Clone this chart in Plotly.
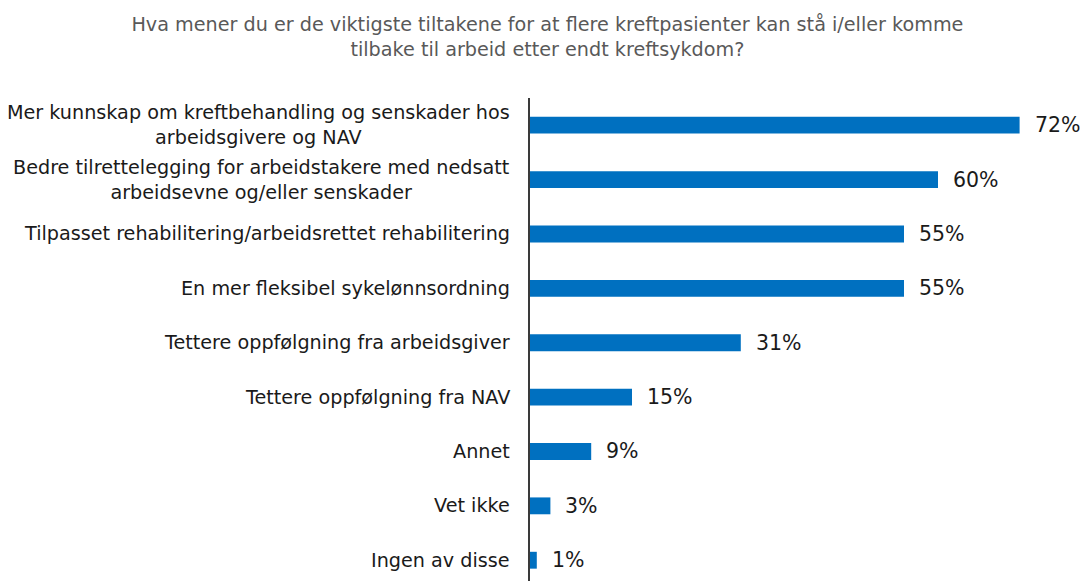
import plotly.graph_objects as go

# Survey answers (percent of respondents), listed top to bottom
categories = [
    "Mer kunnskap om kreftbehandling og senskader hos<br>arbeidsgivere og NAV",
    "Bedre tilrettelegging for arbeidstakere med nedsatt<br>arbeidsevne og/eller senskader",
    "Tilpasset rehabilitering/arbeidsrettet rehabilitering",
    "En mer fleksibel sykelønnsordning",
    "Tettere oppfølgning fra arbeidsgiver",
    "Tettere oppfølgning fra NAV",
    "Annet",
    "Vet ikke",
    "Ingen av disse",
]
values = [72, 60, 55, 55, 31, 15, 9, 3, 1]
value_labels = [f"{v}%" for v in values]

title_text = ("Hva mener du er de viktigste tiltakene for at flere kreftpasienter kan stå i/eller komme"
              "<br>tilbake til arbeid etter endt kreftsykdom?")

FONT = "DejaVu Sans"
BAR_COLOR = "#0070C0"
y_pos = list(range(len(categories)))

fig = go.Figure()
fig.add_trace(go.Bar(
    x=values,
    y=y_pos,
    orientation="h",
    width=0.31,
    marker=dict(color=BAR_COLOR, line=dict(width=0)),
    hoverinfo="skip",
))

annotations = []
# category labels, right-aligned to the axis, lines centred within each label
for i, cat in enumerate(categories):
    annotations.append(dict(
        x=0, xref="paper", y=i, yref="y",
        text=cat, showarrow=False,
        xanchor="right", yanchor="middle", align="center",
        xshift=-18,
        font=dict(family=FONT, size=19.2, color="#1a1a1a"),
    ))
# value labels just beyond each bar end
for i, (v, lab) in enumerate(zip(values, value_labels)):
    annotations.append(dict(
        x=v, xref="x", y=i, yref="y",
        text=lab, showarrow=False,
        xanchor="left", yanchor="middle",
        xshift=13,
        font=dict(family=FONT, size=20.5, color="#1a1a1a"),
    ))

fig.update_layout(
    width=1084, height=581,
    margin=dict(l=530, r=10, t=98, b=0),
    paper_bgcolor="white", plot_bgcolor="white",
    showlegend=False,
    title=dict(
        text=title_text,
        x=0.505, xref="container", xanchor="center",
        y=0.947, yref="container", yanchor="middle",
        font=dict(family=FONT, size=19.2, color="#595959"),
    ),
    annotations=annotations,
    xaxis=dict(
        range=[0, 80], showgrid=False, zeroline=False,
        showticklabels=False, showline=False, fixedrange=True,
    ),
    yaxis=dict(
        range=[len(categories) - 0.5 - 0.118, -0.5],
        showgrid=False, zeroline=False, showticklabels=False,
        showline=True, linecolor="#3a3a3a", linewidth=2,
        fixedrange=True,
    ),
)

fig.write_html("out.html")
